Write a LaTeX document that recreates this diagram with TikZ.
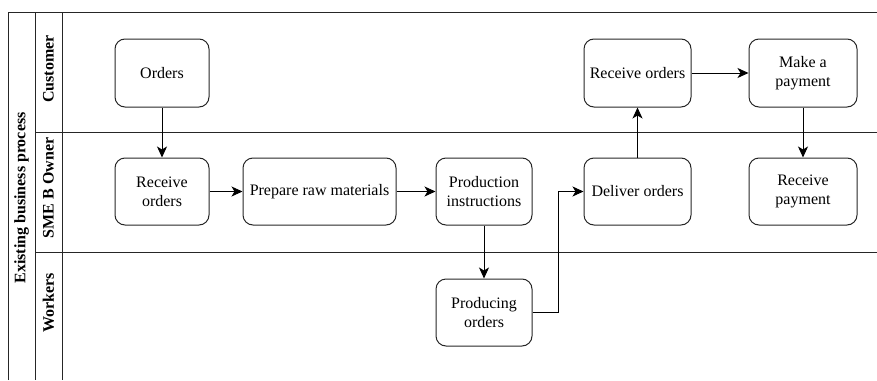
\documentclass[tikz,border=0pt]{standalone}
\usepackage{fontspec}
\setmainfont{Liberation Serif}
\usetikzlibrary{arrows.meta}
\begin{document}
\begin{tikzpicture}[x=1pt,y=-1pt,
  frame/.style={line width=1pt,draw=black!85},
  taskbox/.style={draw=black!85,line width=1pt,rounded corners=10pt,align=center,
    font=\fontsize{16}{19}\selectfont,inner sep=0pt},
  lanelabel/.style={rotate=90,font=\fontsize{16}{19}\selectfont\bfseries},
  flow/.style={line width=1pt,-{Stealth[length=11pt,width=10pt,inset=3pt]}}]
\useasboundingbox (0,0) rectangle (877,380);
% frame
\draw[frame] (8,380) -- (8,12) -- (877,12);
\draw[frame] (35,12) -- (35,380);
\draw[frame] (62,12) -- (62,380);
\draw[frame] (35,132) -- (877,132);
\draw[frame] (35,252) -- (877,252);
% labels
\node[lanelabel] (pool) at (21.5,198) {Existing business process};
\node[lanelabel] (lc) at (48.5,69) {Customer};
\node[lanelabel] (ls) at (48.5,188) {SME B Owner};
\node[lanelabel] (lw) at (48.5,303) {Workers};
% tasks
\node[taskbox,minimum width=94pt,minimum height=68pt] (orders) at (162,73) {Orders};
\node[taskbox,minimum width=94pt,minimum height=67pt] (recv) at (162,191.5) {Receive\\orders};
\node[taskbox,minimum width=153pt,minimum height=67pt] (prep) at (319.5,191.5) {Prepare raw materials};
\node[taskbox,minimum width=96pt,minimum height=67pt] (instr) at (484,191.5) {Production\\instructions};
\node[taskbox,minimum width=96pt,minimum height=67pt] (prod) at (484,312.5) {Producing\\orders};
\node[taskbox,minimum width=107pt,minimum height=67pt] (deliv) at (637.5,191.5) {Deliver orders};
\node[taskbox,minimum width=107pt,minimum height=68pt] (crecv) at (637.5,73) {Receive orders};
\node[taskbox,minimum width=108pt,minimum height=68pt] (pay) at (803,73) {Make a\\payment};
\node[taskbox,minimum width=108pt,minimum height=67pt] (rpay) at (803,191.5) {Receive\\payment};
\coordinate (bend) at (558,250);
% flows
\draw[flow] (orders) -- (recv);
\draw[flow] (recv) -- (prep);
\draw[flow] (prep) -- (instr);
\draw[flow] (instr) -- (prod);
\draw[flow] (prod.east) -| (bend |- deliv.west) -- (deliv.west);
\draw[flow] (deliv) -- (crecv);
\draw[flow] (crecv) -- (pay);
\draw[flow] (pay) -- (rpay);
\end{tikzpicture}
\end{document}
